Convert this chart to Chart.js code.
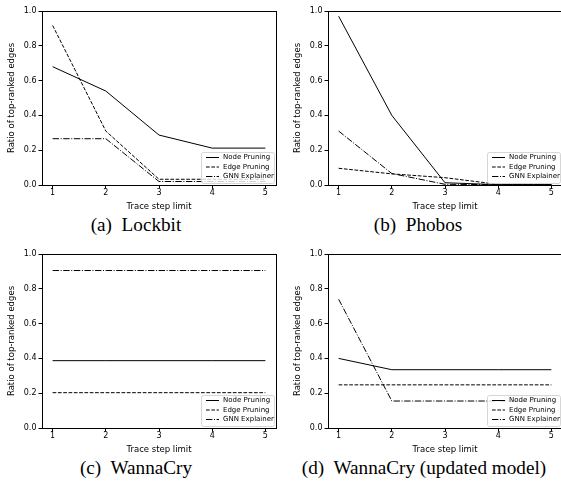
<!DOCTYPE html>
<html>
<head>
<meta charset="utf-8">
<script src="https://cdn.jsdelivr.net/npm/chart.js@4.4.1/dist/chart.umd.min.js"></script>
<style>
  html, body { margin: 0; padding: 0; background: #fff; }
  body { width: 561px; height: 487px; position: relative; overflow: hidden; }
  canvas { position: absolute; }
  .cap { position: absolute; width: 300px; text-align: center; font-family: "Liberation Serif", serif; font-size: 19.2px; line-height: 20px; color: #000; white-space: pre; }
</style>
</head>
<body>
<canvas id="chartA" width="280" height="212" style="left:0;top:0"></canvas>
<canvas id="chartB" width="280" height="212" style="left:286px;top:0"></canvas>
<canvas id="chartC" width="280" height="212" style="left:0;top:243px"></canvas>
<canvas id="chartD" width="280" height="212" style="left:286px;top:243px"></canvas>
<div class="cap" style="left:-14px;top:215px">(a)  Lockbit</div>
<div class="cap" style="left:268px;top:215px">(b)  Phobos</div>
<div class="cap" style="left:-14px;top:458px">(c)  WannaCry</div>
<div class="cap" style="left:274px;top:458px">(d)  WannaCry (updated model)</div>
<script>
// trace step limits on the x axis
const steps = [1, 2, 3, 4, 5];
const yTicks = [0, 0.2, 0.4, 0.6, 0.8, 1.0];
const seriesNames = ['Node Pruning', 'Edge Pruning', 'GNN Explainer'];

// (a) Lockbit
const lockbitNode = [0.68, 0.54, 0.287, 0.212, 0.212];
const lockbitEdge = [0.917, 0.31, 0.033, 0.033, 0.033];
const lockbitGnn = [0.266, 0.266, 0.02, 0.02, 0.02];

// (b) Phobos
const phobosNode = [0.97, 0.40, 0.013, 0.002, 0.002];
const phobosEdge = [0.096, 0.064, 0.042, 0.004, 0.002];
const phobosGnn = [0.31, 0.066, 0.004, 0.002, 0.002];

// (c) WannaCry
const wannaNode = [0.387, 0.387, 0.387, 0.387, 0.387];
const wannaEdge = [0.203, 0.203, 0.203, 0.203, 0.203];
const wannaGnn = [0.905, 0.905, 0.905, 0.905, 0.905];

// (d) WannaCry (updated model)
const updNode = [0.40, 0.335, 0.335, 0.335, 0.335];
const updEdge = [0.248, 0.248, 0.248, 0.248, 0.248];
const updGnn = [0.74, 0.155, 0.155, 0.155, 0.155];

const lineDashes = [[], [3.7, 1.6], [6.4, 1.6, 1, 1.6]];
const tickFont = { family: 'DejaVu Sans', size: 8 };
const titleFont = { family: 'DejaVu Sans', size: 8.5 };

// box around the plot area, like matplotlib spines
const framePlugin = {
    id: 'frame',
    afterDatasetsDraw(chart) {
        const { ctx, chartArea: a } = chart;
        ctx.save();
        ctx.strokeStyle = '#000';
        ctx.lineWidth = 1;
        ctx.strokeRect(Math.round(a.left) + 0.5, Math.round(a.top) + 0.5,
            Math.round(a.right - a.left), Math.round(a.bottom - a.top));
        ctx.restore();
    }
};

// legend in the lower right corner of the plot area
const boxLegend = {
    id: 'boxLegend',
    afterDraw(chart) {
        const { ctx, chartArea: a } = chart;
        const w = 73, h = 31;
        const x = a.right - 2 - w, y = a.bottom - 2 - h;
        ctx.save();
        ctx.fillStyle = 'rgba(255,255,255,0.8)';
        ctx.strokeStyle = '#ccc';
        ctx.lineWidth = 0.8;
        ctx.beginPath();
        ctx.roundRect(x + 0.5, y + 0.5, w, h, 2);
        ctx.fill();
        ctx.stroke();
        ctx.font = '7px "DejaVu Sans"';
        ctx.textBaseline = 'middle';
        chart.data.datasets.forEach((ds, i) => {
            const ry = y + 5.5 + i * 9.5;
            ctx.strokeStyle = ds.borderColor;
            ctx.lineWidth = ds.borderWidth;
            ctx.setLineDash(ds.borderDash);
            ctx.beginPath();
            ctx.moveTo(x + 5, ry);
            ctx.lineTo(x + 18, ry);
            ctx.stroke();
            ctx.setLineDash([]);
            ctx.fillStyle = '#000';
            ctx.fillText(ds.label, x + 22, ry);
        });
        ctx.restore();
    }
};

function makeChart(id, node, edge, gnn) {
    const groups = [node, edge, gnn];
    return new Chart(document.getElementById(id), {
        type: 'line',
        data: {
            datasets: groups.map((vals, i) => ({
                label: seriesNames[i],
                data: steps.map((s, k) => ({ x: s, y: vals[k] })),
                borderColor: '#000',
                borderWidth: 1,
                borderDash: lineDashes[i],
                pointRadius: 0,
                fill: false,
                tension: 0
            }))
        },
        options: {
            responsive: false,
            animation: false,
            devicePixelRatio: 1,
            layout: { padding: { left: 0, top: 11, right: 4, bottom: 0 } },
            plugins: { legend: { display: false }, tooltip: { enabled: false } },
            scales: {
                x: {
                    type: 'linear',
                    min: 0.8,
                    max: 5.2,
                    afterBuildTicks: s => { s.ticks = steps.map(v => ({ value: v })); },
                    afterFit: s => { s.height = 27; },
                    border: { display: false },
                    grid: { drawOnChartArea: false, drawTicks: true, tickLength: 3.5, color: '#000' },
                    ticks: { font: tickFont, color: '#000', padding: 0, maxRotation: 0 },
                    title: { display: true, text: 'Trace step limit', font: titleFont, color: '#000', padding: { top: 5, bottom: 0 } }
                },
                y: {
                    min: 0,
                    max: 1,
                    afterBuildTicks: s => { s.ticks = yTicks.map(v => ({ value: v })); },
                    afterFit: s => { s.width = 42; },
                    border: { display: false },
                    grid: { drawOnChartArea: false, drawTicks: true, tickLength: 3.5, color: '#000' },
                    ticks: { font: tickFont, color: '#000', padding: 2, callback: v => v.toFixed(1) },
                    title: { display: true, text: 'Ratio of top-ranked edges', font: titleFont, color: '#000', padding: { top: 7, bottom: 0 } }
                }
            }
        },
        plugins: [framePlugin, boxLegend]
    });
}

makeChart('chartA', lockbitNode, lockbitEdge, lockbitGnn);
makeChart('chartB', phobosNode, phobosEdge, phobosGnn);
makeChart('chartC', wannaNode, wannaEdge, wannaGnn);
makeChart('chartD', updNode, updEdge, updGnn);
</script>
</body>
</html>
